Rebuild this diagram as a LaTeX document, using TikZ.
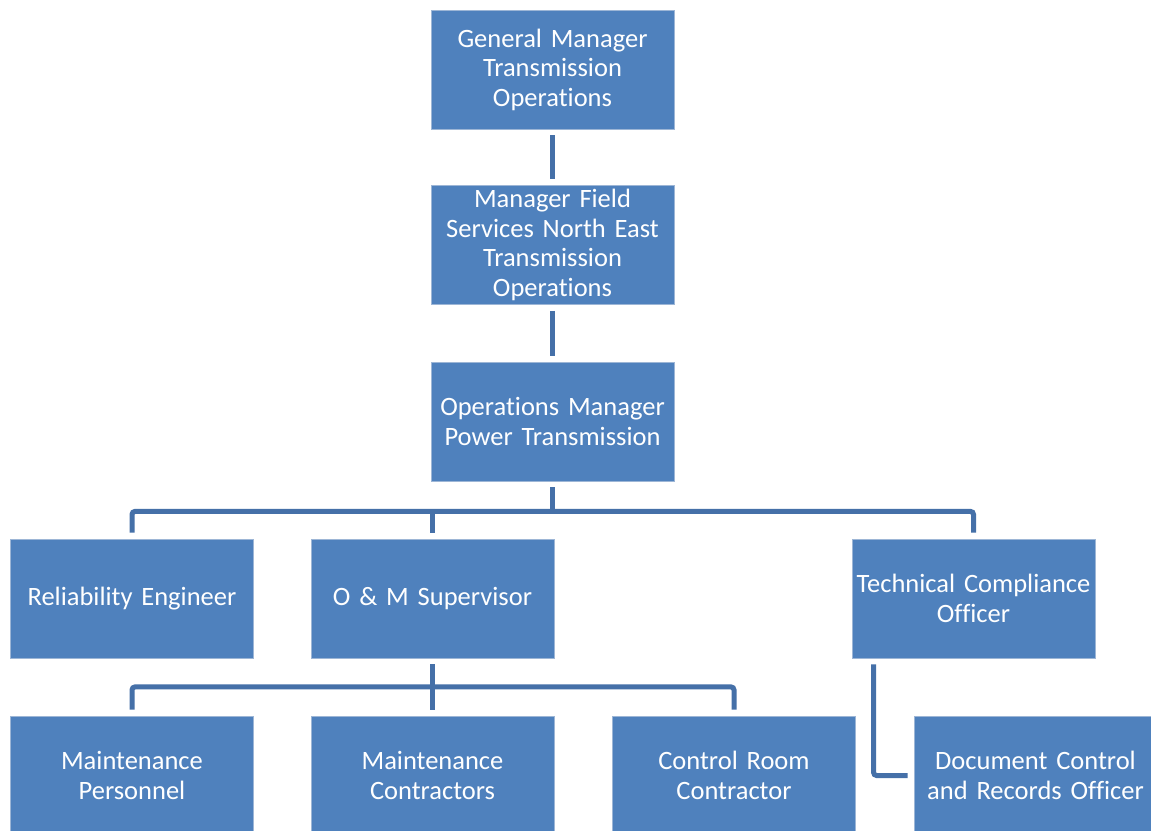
\documentclass[tikz,border=0pt]{standalone}
\usepackage{fontspec}
\setmainfont{Carlito}[Ligatures=NoCommon]
\usetikzlibrary{calc}
\definecolor{boxblue}{HTML}{4F81BD}
\definecolor{boxedge}{HTML}{9DB6D6}
\definecolor{linkblue}{HTML}{4570A8}
\tikzset{
  orgbox/.style={rectangle, fill=boxblue, draw=boxedge, line width=0.8pt,
    minimum width=243pt, minimum height=119pt, inner sep=1pt,
    text=white, align=center, text width=240pt,
    font=\fontsize{26.5pt}{29.5pt}\selectfont},
  link/.style={draw=linkblue, line width=5pt, rounded corners=3pt}
}
\begin{document}
\begin{tikzpicture}[x=1pt,y=-1pt]
\useasboundingbox (0,0) rectangle (1151,830);
\fill[white] (0,0) rectangle (1151,830);
\node[orgbox] (gm) at (552.5,69.5) {General Manager\\Transmission\\Operations};
\node[orgbox] (mf) at (552.5,245) {Manager Field\\Services North East\\Transmission\\Operations};
\node[orgbox] (om) at (552.5,421.5) {Operations Manager\\Power Transmission};
\node[orgbox] (re) at (132,598.5) {Reliability Engineer};
\node[orgbox] (oms) at (432.5,598.5) {O \& M Supervisor};
\node[orgbox] (tc) at (973.5,598.5) {Technical Compliance\\Officer};
\node[orgbox] (mp) at (132,775.5) {Maintenance\\Personnel};
\node[orgbox] (mc) at (432.5,775.5) {Maintenance\\Contractors};
\node[orgbox] (cr) at (734,775.5) {Control Room\\Contractor};
\node[orgbox] (dc) at (1035.5,775.5) {Document Control\\and Records Officer};
% connectors
\draw[link] ([yshift=-6pt]gm.south) -- ([yshift=6pt]mf.north);
\draw[link] ([yshift=-6pt]mf.south) -- ([yshift=6pt]om.north);
\coordinate (bus1) at ($(om.south)+(0,30)$);
\draw[link] ([yshift=-6pt]om.south) -- (bus1);
\draw[link] ([yshift=6pt]re.north) |- (bus1) -| ([yshift=6pt]tc.north);
\draw[link] (bus1 -| oms.north) -- ([yshift=6pt]oms.north);
\coordinate (bus2) at ($(oms.south)+(0,28.5)$);
\draw[link] ([yshift=-6pt]oms.south) -- (bus2);
\draw[link] ([yshift=6pt]mp.north) |- (bus2) -| ([yshift=6pt]cr.north);
\draw[link] (bus2) -- ([yshift=6pt]mc.north);
\draw[link] ([xshift=22pt,yshift=-6pt]tc.south west) |- ([xshift=-6pt]dc.west);
\end{tikzpicture}
\end{document}
